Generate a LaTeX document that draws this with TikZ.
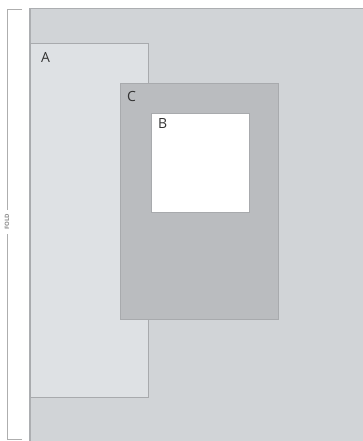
\documentclass[tikz,border=0pt]{standalone}
\usepackage{fontspec}
\setmainfont{Open Sans}
\definecolor{sheet}{RGB}{209,212,215}
\definecolor{sheetline}{RGB}{172,174,177}
\definecolor{pa}{RGB}{222,225,228}
\definecolor{pc}{RGB}{186,188,191}
\definecolor{edge}{RGB}{168,170,173}
\definecolor{foldc}{RGB}{140,140,140}
\begin{document}
\begin{tikzpicture}[x=1pt,y=-1pt,
  panel/.style={draw=edge,line width=1pt},
  lab/.style={anchor=north west,inner sep=0pt,font=\fontsize{14}{14}\selectfont,text=black!80}]
\useasboundingbox (0,0) rectangle (363,441);
\fill[white] (0,0) rectangle (363,441);
% sheet
\filldraw[fill=sheet,draw=sheetline,line width=1.4pt] (30,8.5) rectangle (364,442);
% A
\node[panel,fill=pa,minimum width=118pt,minimum height=354pt,anchor=north west,inner sep=0pt] (A) at (30,43) {};
\node[lab] (la) at (41,52) {A};
% C
\node[panel,fill=pc,minimum width=158pt,minimum height=236pt,anchor=north west,inner sep=0pt] (C) at (120,83) {};
\node[lab] (lc) at (127,91) {C};
% B
\node[draw=edge,line width=0.8pt,fill=white,minimum width=98pt,minimum height=99pt,anchor=north west,inner sep=0pt] (B) at (151,113) {};
\node[lab] (lb) at (158,118) {B};
% fold bracket
\node[rotate=90,font=\bfseries\fontsize{6}{6}\selectfont,text=foldc,inner sep=4pt] (fold) at (7,222) {FOLD};
\coordinate (ft) at (22,9);
\coordinate (fb) at (22,439);
\draw[foldc!70,line width=0.8pt] (ft) -- (7,9) -- (fold.east);
\draw[foldc!70,line width=0.8pt] (fb) -- (7,439) -- (fold.west);
\end{tikzpicture}
\end{document}
